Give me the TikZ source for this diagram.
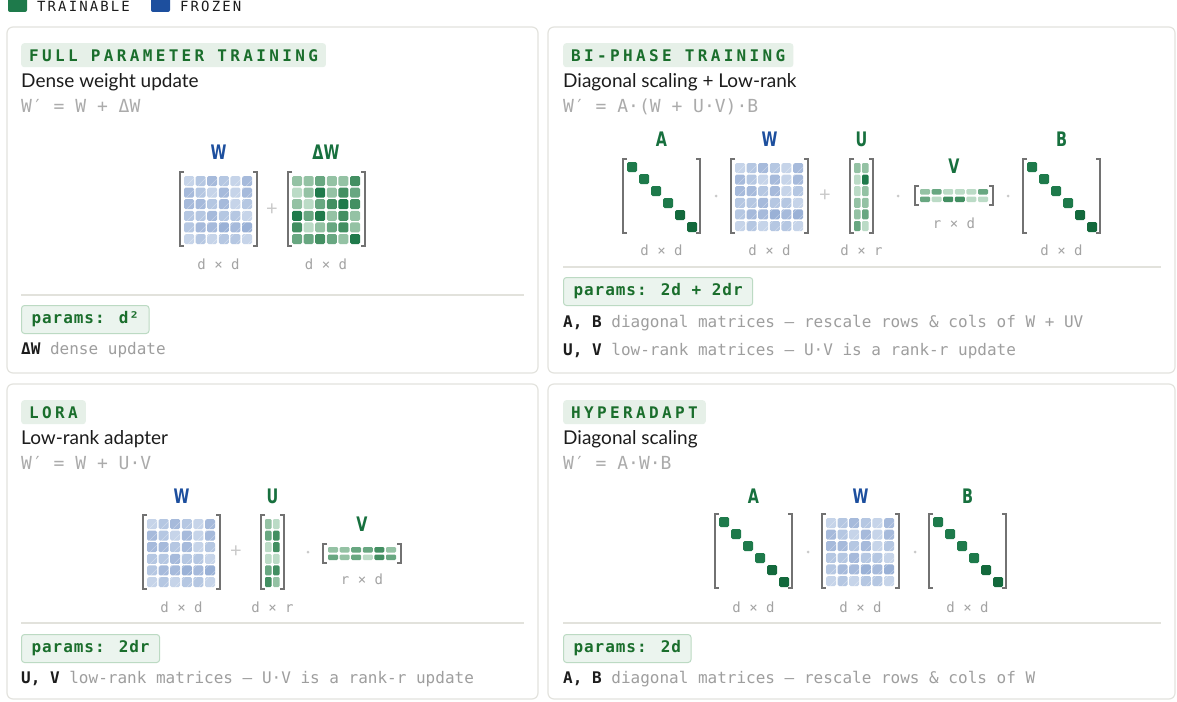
\documentclass[tikz,border=0pt]{standalone}
\usepackage{fontspec}
\setmainfont{Lato}
\newfontfamily\monofont{DejaVu Sans Mono}
\newfontfamily\tagfont[LetterSpace=21]{DejaVu Sans Mono}
\newfontfamily\legfont[LetterSpace=15]{DejaVu Sans Mono}
\newfontfamily\parfont[LetterSpace=6]{DejaVu Sans Mono}
\newfontfamily\labfont[FakeStretch=0.72]{DejaVu Sans}

\definecolor{panelline}{HTML}{E3E3DE}
\definecolor{seprule}{HTML}{E2E2DC}
\definecolor{tagbg}{HTML}{E6F0E8}
\definecolor{taggreen}{HTML}{1A6E2C}
\definecolor{parbg}{HTML}{EBF4EE}
\definecolor{parline}{HTML}{BCDAC3}
\definecolor{ink}{HTML}{1C1C1C}
\definecolor{mute}{HTML}{9E9E9E}
\definecolor{formgray}{HTML}{ABABAB}
\definecolor{dimgray}{HTML}{A3A3A3}
\definecolor{signgray}{HTML}{C9C9C9}
\definecolor{brkgray}{HTML}{727272}
\definecolor{labblue}{HTML}{1D4F9E}
\definecolor{labgreen}{HTML}{17703E}
\definecolor{b1}{HTML}{C6D4E9}
\definecolor{b2}{HTML}{B5C7E2}
\definecolor{b3}{HTML}{A6BADB}
\definecolor{b4}{HTML}{9AB1D6}
\definecolor{g1}{HTML}{BBDBC6}
\definecolor{g2}{HTML}{94C2A4}
\definecolor{g3}{HTML}{68A781}
\definecolor{g4}{HTML}{438F62}
\definecolor{g5}{HTML}{1F7A4B}
\definecolor{d1}{HTML}{1E7A4B}
\definecolor{d2}{HTML}{13693C}

% brackets round a matrix: x1, y1, x2, y2
\newcommand{\mbrk}[4]{%
  \draw[brk] ({#1+4},#2) -- (#1,#2) -- (#1,#4) -- ({#1+4},#4);
  \draw[brk] ({#3-4},#2) -- (#3,#2) -- (#3,#4) -- ({#3-4},#4);
}
% frozen d x d weight matrix
\newcommand{\frozenW}[2]{%
  \mbrk{#1}{#2}{#1+77}{#2+74}
  \foreach \r [count=\i from 0] in {{b1,b2,b3,b2,b1,b3},{b3,b2,b1,b3,b1,b3},{b3,b3,b2,b3,b1,b2},{b2,b2,b3,b2,b2,b1},{b2,b3,b3,b4,b3,b4},{b1,b2,b1,b2,b2,b1}}
    \foreach \c [count=\j from 0] in \r
      \fill[fill=\c, rounded corners=1.5pt] ({#1+4+\j*11.6},{#2+4+\i*11.6}) rectangle ++(10,10);
  \begin{scope}
    \clip ({#1+4},{#2+4}) rectangle ++(68,68);
    \foreach \k in {0,...,11}
      \draw[white, opacity=0.35, line width=0.6pt] ({#1+4+\k*12-68},{#2+72}) -- ++(68,-68);
  \end{scope}
}
% dense d x d trainable matrix
\newcommand{\denseM}[3]{%
  \mbrk{#1}{#2}{#1+77}{#2+74}
  \foreach \r [count=\i from 0] in {#3}
    \foreach \c [count=\j from 0] in \r
      \fill[fill=\c, rounded corners=1.5pt] ({#1+4+\j*11.6},{#2+4+\i*11.6}) rectangle ++(10,10);
}
% diagonal scaling matrix
\newcommand{\diagM}[2]{%
  \mbrk{#1}{#2}{#1+77}{#2+74}
  \foreach \k/\c in {0/d1,1/d1,2/d1,3/d1,4/d2,5/d2}
    \fill[fill=\c, rounded corners=1.5pt] ({#1+4+\k*12},{#2+3+\k*12}) rectangle ++(10,10);
}
% tall d x r factor
\newcommand{\lowU}[3]{%
  \mbrk{#1}{#2}{#1+23}{#2+74}
  \foreach \r [count=\i from 0] in {#3}
    \foreach \c [count=\j from 0] in \r
      \fill[fill=\c, rounded corners=1.2pt] ({#1+4+\j*8},{#2+4+\i*11.6}) rectangle ++(6.5,10);
}
% wide r x d factor
\newcommand{\lowV}[3]{%
  \mbrk{#1}{#2}{#1+78}{#2+19}
  \foreach \r [count=\i from 0] in {#3}
    \foreach \c [count=\j from 0] in \r
      \fill[fill=\c, rounded corners=1.2pt] ({#1+5+\j*11.6},{#2+3+\i*7.5}) rectangle ++(10,5.5);
}

\begin{document}
\begin{tikzpicture}[x=1pt, y=-1pt,
  panel/.style={draw=panelline, line width=1.2pt, rounded corners=6pt, fill=white},
  tagbox/.style={fill=tagbg, rounded corners=3pt, text=taggreen, anchor=north west,
    minimum height=24pt, inner xsep=8pt, inner ysep=0pt,
    font=\tagfont\bfseries\fontsize{16}{16}\selectfont},
  title/.style={anchor=base west, inner sep=0pt, text=ink, font=\fontsize{19}{21}\selectfont},
  formula/.style={anchor=base west, inner sep=0pt, text=formgray, font=\monofont\fontsize{18}{20}\selectfont},
  parbox/.style={fill=parbg, draw=parline, line width=1pt, rounded corners=3pt, anchor=north west,
    minimum height=28pt, inner xsep=10pt, inner ysep=0pt, text height=11pt, text depth=3pt,
    text=taggreen, font=\parfont\bfseries\fontsize{16}{16}\selectfont},
  desc/.style={anchor=base west, inner sep=0pt, text=mute, font=\monofont\fontsize{16}{18}\selectfont},
  lab/.style={font=\labfont\bfseries\fontsize{20}{20}\selectfont},
  dim/.style={text=dimgray, font=\monofont\fontsize{14}{14}\selectfont},
  sign/.style={text=signgray, font=\fontsize{20}{20}\selectfont},
  brk/.style={draw=brkgray, line width=1.6pt},
  sep/.style={draw=seprule, line width=1.4pt},
  legend/.style={anchor=base west, inner sep=0pt, text=ink, font=\legfont\fontsize{14}{14}\selectfont}]
\useasboundingbox[fill=white] (0,0) rectangle (1177,701);

% legend
\fill[d1, rounded corners=2pt] (8,-8) rectangle (27,12);
\node[legend] (legtrain) at (37,11.5) {TRAINABLE};
\fill[labblue, rounded corners=2pt] (151,-8) rectangle (170,12);
\node[legend] (legfrozen) at (180,11.5) {FROZEN};

% panels
\draw[panel] (7,27) rectangle (538,373);
\draw[panel] (548,27) rectangle (1175,373);
\draw[panel] (7,384) rectangle (538,699);
\draw[panel] (548,384) rectangle (1175,699);

% full parameter training
\node[tagbox] (fullTag) at (21,43) {FULL PARAMETER TRAINING};
\node[title] (fullTitle) at (21,87) {Dense weight update};
\node[formula] (fullForm) at (21,112.5) {W′ = W + ΔW};
\node[lab, text=labblue] (fullW) at (218.5,152) {W};
\node[lab, text=labgreen] (fullDW) at (326,152) {ΔW};
\frozenW{180}{172}
\denseM{288}{172}{{g2,g2,g3,g2,g2,g4},{g1,g2,g5,g2,g4,g3},{g2,g1,g3,g4,g5,g4},{g5,g3,g5,g2,g4,g2},{g4,g1,g2,g3,g4,g2},{g3,g3,g4,g3,g2,g5}}
\node[sign] (fullPlus) at (272,210) {+};
\node[dim] (fullWdim) at (218.5,264) {d × d};
\node[dim] (fullDWdim) at (326,264) {d × d};
\draw[sep] (21,295) -- (524,295);
\node[parbox] (fullPar) at (21,305) {params: d²};
\node[desc] (fullNote) at (21,354) {\textcolor{ink}{\bfseries ΔW} dense update};

% bi-phase training
\node[tagbox] (biTag) at (563,43) {BI-PHASE TRAINING};
\node[title] (biTitle) at (563,87) {Diagonal scaling + Low-rank};
\node[formula] (biForm) at (563,112.5) {W′ = A·(W + U·V)·B};
\node[lab, text=labgreen] (biA) at (661.5,139) {A};
\node[lab, text=labblue] (biW) at (769.5,139) {W};
\node[lab, text=labgreen] (biU) at (861.5,139) {U};
\node[lab, text=labgreen] (biV) at (954,166) {V};
\node[lab, text=labgreen] (biB) at (1061.5,139) {B};
\diagM{623}{159}
\frozenW{731}{159}
\lowU{850}{159}{{g2,g2},{g1,g5},{g1,g2},{g2,g2},{g2,g3},{g3,g1}}
\lowV{915}{186}{{g2,g3,g1,g1,g1,g3},{g3,g1,g4,g4,g1,g1}}
\diagM{1023}{159}
\fill[signgray] (716,196) circle (1.5);
\node[sign] (biPlus) at (825,196) {+};
\fill[signgray] (898,196) circle (1.5);
\fill[signgray] (1008,196) circle (1.5);
\node[dim] (biAdim) at (661.5,250) {d × d};
\node[dim] (biWdim) at (769.5,250) {d × d};
\node[dim] (biUdim) at (861.5,250) {d × r};
\node[dim] (biVdim) at (954,223) {r × d};
\node[dim] (biBdim) at (1061.5,250) {d × d};
\draw[sep] (563,267) -- (1161,267);
\node[parbox] (biPar) at (563,277) {params: 2d + 2dr};
\node[desc] (biNoteA) at (563,327) {\textcolor{ink}{\bfseries A, B} diagonal matrices — rescale rows \& cols of W + UV};
\node[desc] (biNoteU) at (563,355) {\textcolor{ink}{\bfseries U, V} low-rank matrices — U·V is a rank-r update};

% lora
\node[tagbox] (loraTag) at (21,400) {LORA};
\node[title] (loraTitle) at (21,444) {Low-rank adapter};
\node[formula] (loraForm) at (21,469.5) {W′ = W + U·V};
\node[lab, text=labblue] (loraW) at (181.5,496) {W};
\node[lab, text=labgreen] (loraU) at (272.5,496) {U};
\node[lab, text=labgreen] (loraV) at (362,524) {V};
\frozenW{143}{515}
\lowU{261}{515}{{g2,g1},{g3,g4},{g1,g4},{g1,g1},{g3,g4},{g4,g2}}
\lowV{323}{544}{{g2,g2,g3,g3,g4,g2},{g3,g2,g3,g1,g4,g3}}
\node[sign] (loraPlus) at (236,552) {+};
\fill[signgray] (308,552) circle (1.5);
\node[dim] (loraWdim) at (181.5,607) {d × d};
\node[dim] (loraUdim) at (272.5,607) {d × r};
\node[dim] (loraVdim) at (362,579) {r × d};
\draw[sep] (21,623) -- (524,623);
\node[parbox] (loraPar) at (21,634) {params: 2dr};
\node[desc] (loraNote) at (21,683) {\textcolor{ink}{\bfseries U, V} low-rank matrices — U·V is a rank-r update};

% hyperadapt
\node[tagbox] (hypTag) at (563,400) {HYPERADAPT};
\node[title] (hypTitle) at (563,444) {Diagonal scaling};
\node[formula] (hypForm) at (563,469.5) {W′ = A·W·B};
\node[lab, text=labgreen] (hypA) at (753.5,496) {A};
\node[lab, text=labblue] (hypW) at (860.5,496) {W};
\node[lab, text=labgreen] (hypB) at (967.5,496) {B};
\diagM{715}{514}
\frozenW{822}{514}
\diagM{929}{514}
\fill[signgray] (808,552) circle (1.5);
\fill[signgray] (915,552) circle (1.5);
\node[dim] (hypAdim) at (753.5,607) {d × d};
\node[dim] (hypWdim) at (860.5,607) {d × d};
\node[dim] (hypBdim) at (967.5,607) {d × d};
\draw[sep] (563,623) -- (1161,623);
\node[parbox] (hypPar) at (563,634) {params: 2d};
\node[desc] (hypNote) at (563,683) {\textcolor{ink}{\bfseries A, B} diagonal matrices — rescale rows \& cols of W};
\end{tikzpicture}
\end{document}
